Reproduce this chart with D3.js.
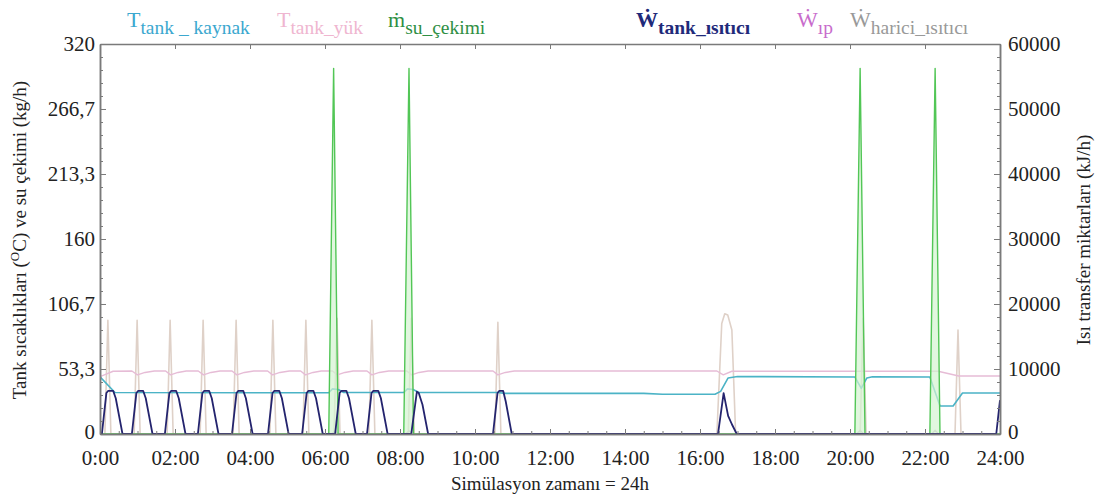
<!DOCTYPE html>
<html>
<head>
<meta charset="utf-8">
<script src="https://cdnjs.cloudflare.com/ajax/libs/d3/7.8.5/d3.min.js"></script>
<style>
    body { margin: 0; background: #fff; }
</style>
</head>
<body>
<script>
// zaman (saat) - deger ciftleri
var tKaynak = [[0,47],[0.4,34],[6.1,33.8],[6.2,37],[6.35,36.5],[6.5,34],[8.1,34],[8.2,37],[8.35,36.5],[8.5,34],
    [10.6,34],[10.8,33.3],[14.5,33.3],[15,32.6],[16.4,32.6],[16.55,35],[16.75,46],[17,47.2],[20.13,46.8],[20.3,37.5],
    [20.45,46],[20.6,47],[22.13,46.8],[22.4,23],[22.75,23],[23.0,33.6],[24,33.6]];

var tYuk = [[0,47],[0.35,51.5],[0.85,51.7],[1.0,48.5],[1.2,50.5],[1.45,51.7],
    [1.75,51.7],[1.88,48.5],[2.08,50.5],[2.3,51.7],[2.62,51.7],[2.76,48.5],[2.96,50.5],[3.2,51.7],
    [3.52,51.7],[3.65,48.5],[3.85,50.5],[4.1,51.7],[4.47,51.7],[4.6,48.5],[4.8,50.5],[5.05,51.7],
    [5.35,51.7],[5.48,48.5],[5.68,50.5],[5.9,51.7],[6.2,51.7],[6.33,48.5],[6.53,50.5],[6.75,51.7],
    [7.12,51.7],[7.25,48.5],[7.45,50.5],[7.7,51.7],[8.18,51.7],[8.31,48.5],[8.51,50.5],[8.75,51.7],
    [10.48,51.7],[10.61,48.5],[10.81,50.5],[11.05,51.7],[16.45,51.7],[16.62,48.5],[16.85,51.5],
    [22.35,51.5],[22.9,47.6],[24,47.6]];

var suCekimi = [[0,0],[6.1,0],[6.23,300],[6.35,0],[8.1,0],[8.24,300],[8.36,0],
    [20.13,0],[20.27,300],[20.4,0],[22.13,0],[22.27,300],[22.4,0],[24,0]];

var wTank = [[0,0],
    [0.05,0],[0.17,6300],[0.22,6650],[0.35,6650],[0.42,5500],[0.6,0],
    [0.85,0],[0.97,6300],[1.02,6650],[1.15,6650],[1.22,5500],[1.4,0],
    [1.73,0],[1.85,6300],[1.9,6650],[2.03,6650],[2.1,5500],[2.28,0],
    [2.61,0],[2.73,6300],[2.78,6650],[2.91,6650],[2.98,5500],[3.16,0],
    [3.52,0],[3.64,6300],[3.69,6650],[3.82,6650],[3.89,5500],[4.07,0],
    [4.48,0],[4.6,6300],[4.65,6650],[4.78,6650],[4.85,5500],[5.03,0],
    [5.39,0],[5.51,6300],[5.56,6650],[5.69,6650],[5.76,5500],[5.94,0],
    [6.27,0],[6.39,6300],[6.44,6650],[6.57,6650],[6.64,5500],[6.82,0],
    [7.12,0],[7.24,6300],[7.29,6650],[7.42,6650],[7.49,5500],[7.67,0],
    [8.3,0],[8.45,6500],[8.5,6300],[8.6,4500],[8.75,0],
    [10.48,0],[10.6,6300],[10.65,6650],[10.75,6650],[10.82,5000],[10.98,0],
    [16.48,0],[16.63,6300],[16.75,2800],[16.85,1500],[16.98,0],
    [23.9,0],[24,5200]];

var wIp = [[0,0],[6.18,0],[6.27,500],[6.36,0],[8.15,0],[8.24,500],[8.33,0],
    [20.18,0],[20.27,600],[20.36,0],[22.18,0],[22.27,600],[22.36,0],[24,0]];

var wHarici = [[0,0],[0.13,0],[0.21,17500],[0.29,0],[0.91,0],[0.99,17500],[1.07,0],
    [1.79,0],[1.87,17500],[1.95,0],[2.67,0],[2.75,17500],[2.83,0],[3.55,0],[3.63,17500],[3.71,0],
    [4.53,0],[4.61,17500],[4.69,0],[5.41,0],[5.49,17500],[5.57,0],[6.24,0],[6.32,17800],[6.4,0],
    [7.17,0],[7.25,17500],[7.33,0],[8.22,0],[8.3,17800],[8.38,0],[10.53,0],[10.61,17200],[10.69,0],
    [16.45,0],[16.58,17000],[16.66,18500],[16.74,18300],[16.85,16000],[16.95,0],
    [20.27,0],[20.35,17800],[20.43,0],[22.8,0],[22.88,16000],[22.96,0],[24,0]];

var xTicks = [0,2,4,6,8,10,12,14,16,18,20,22,24];
var xTickLabels = ["0:00","02:00","04:00","06:00","08:00","10:00","12:00","14:00","16:00","18:00","20:00","22:00","24:00"];
var leftTicks = [0, 53.333, 106.667, 160, 213.333, 266.667, 320];
var leftTickLabels = ["0","53,3","106,7","160","213,3","266,7","320"];
var rightTicks = [0,10000,20000,30000,40000,50000,60000];

var w = 1100;
var h = 502;
var pl = 100, pr = 1000, pt = 44, pb = 434;
var serif = "'Liberation Serif', 'DejaVu Serif', serif";

var svg = d3.select("body")
    .append("svg")
    .attr("width", w)
    .attr("height", h)
    .style("font-family", serif);

var x = d3.scaleLinear().domain([0, 24]).range([pl, pr]);
var yL = d3.scaleLinear().domain([0, 320]).range([pb, pt]);
var yR = d3.scaleLinear().domain([0, 60000]).range([pb, pt]);

svg.append("clipPath").attr("id", "plot")
    .append("rect")
    .attr("x", pl).attr("y", pt)
    .attr("width", pr - pl).attr("height", pb - pt);

var g = svg.append("g").attr("clip-path", "url(#plot)");

function lineFor(scale) {
    return d3.line()
        .x(function (d) { return x(d[0]); })
        .y(function (d) { return scale(d[1]); });
}

function drawLine(data, scale, color, width) {
    g.append("path")
        .datum(data)
        .attr("fill", "none")
        .attr("stroke", color)
        .attr("stroke-width", width)
        .attr("stroke-linejoin", "round")
        .attr("d", lineFor(scale));
}

drawLine(wHarici, yR, "#dfd1c8", 1.6);
drawLine(wIp, yR, "#c9b8c4", 1.2);
drawLine(tYuk, yL, "#e6bcd6", 1.4);
drawLine(tKaynak, yL, "#4bb3c6", 1.6);

// su cekimi: acik yesil dolgu + cizgi
g.append("path")
    .datum(suCekimi)
    .attr("fill", "#d4f4d2")
    .attr("fill-opacity", 0.7)
    .attr("d", d3.area()
        .x(function (d) { return x(d[0]); })
        .y0(yL(0))
        .y1(function (d) { return yL(d[1]); }));
drawLine(suCekimi, yL, "#52c656", 1.4);

drawLine(wTank, yR, "#24246e", 1.8);

// eksenler
var axisColor = "#7a7a7a";

svg.append("g")
    .attr("transform", "translate(0," + pt + ")")
    .call(d3.axisTop(x).tickValues(xTicks).tickSize(-5).tickSizeOuter(0).tickFormat(""));

var minorX = d3.range(0, 24.01, 0.5);
svg.append("g")
    .attr("transform", "translate(0," + pb + ")")
    .call(d3.axisBottom(x).tickValues(minorX).tickSize(-3).tickSizeOuter(0).tickFormat(""));

svg.append("g")
    .attr("class", "tick-text")
    .attr("transform", "translate(0," + pb + ")")
    .call(d3.axisBottom(x).tickValues(xTicks).tickSize(-5).tickSizeOuter(0).tickPadding(16)
        .tickFormat(function (d, i) { return xTickLabels[i]; }));

var minorL = d3.range(0, 31).map(function (i) { return i * 320 / 30; });
svg.append("g")
    .attr("transform", "translate(" + pl + ",0)")
    .call(d3.axisLeft(yL).tickValues(minorL).tickSize(-3).tickSizeOuter(0).tickFormat(""));

svg.append("g")
    .attr("class", "tick-text")
    .attr("transform", "translate(" + pl + ",0)")
    .call(d3.axisLeft(yL).tickValues(leftTicks).tickSize(-6).tickSizeOuter(0).tickPadding(5)
        .tickFormat(function (d, i) { return leftTickLabels[i]; }));

var minorR = d3.range(0, 60001, 2000);
svg.append("g")
    .attr("transform", "translate(" + pr + ",0)")
    .call(d3.axisRight(yR).tickValues(minorR).tickSize(-3).tickSizeOuter(0).tickFormat(""));

svg.append("g")
    .attr("class", "tick-text")
    .attr("transform", "translate(" + pr + ",0)")
    .call(d3.axisRight(yR).tickValues(rightTicks).tickSize(-6).tickSizeOuter(0).tickPadding(8)
        .tickFormat(d3.format("d")));

svg.selectAll("g").attr("font-family", null);
svg.selectAll(".domain").attr("stroke", axisColor).attr("stroke-width", 1.5);
svg.selectAll(".tick line").attr("stroke", axisColor);
svg.selectAll(".tick-text text")
    .attr("font-size", 21)
    .attr("fill", "#222");

// sifir etiketleri biraz yukari
svg.selectAll(".tick-text .tick text")
    .filter(function (d) { return d === 0 && this.getAttribute("dy") === "0.32em"; })
    .attr("dy", "0.2em");

// eksen basliklari
svg.append("text")
    .attr("transform", "translate(26,240) rotate(-90)")
    .attr("text-anchor", "middle")
    .attr("font-size", 19)
    .attr("fill", "#222")
    .call(function (t) {
        t.append("tspan").text("Tank sıcaklıkları (");
        t.append("tspan").attr("font-size", 13).attr("dy", -7).text("O");
        t.append("tspan").attr("dy", 7).text("C) ve su çekimi (kg/h)");
    });

svg.append("text")
    .attr("transform", "translate(1090,240) rotate(-90)")
    .attr("text-anchor", "middle")
    .attr("font-size", 19)
    .attr("fill", "#222")
    .text("Isı transfer miktarları (kJ/h)");

svg.append("text")
    .attr("x", 550)
    .attr("y", 490)
    .attr("text-anchor", "middle")
    .attr("font-size", 19)
    .attr("fill", "#222")
    .text("Simülasyon zamanı = 24h");

// lejant
var legend = [
    { main: "T", sub: "tank _ kaynak", color: "#3ca8cf", x: 127, bold: false },
    { main: "T", sub: "tank_yük", color: "#efb6d0", x: 277, bold: false },
    { main: "ṁ", sub: "su_çekimi", color: "#2f8f44", x: 388, bold: false },
    { main: "Ẇ", sub: "tank_ısıtıcı", color: "#1f2a7a", x: 636, bold: true },
    { main: "Ẇ", sub: "ıp", color: "#c86ccc", x: 797, bold: false },
    { main: "Ẇ", sub: "harici_ısıtıcı", color: "#999999", x: 850, bold: false }
];

legend.forEach(function (d) {
    var t = svg.append("text")
        .attr("x", d.x)
        .attr("y", 27)
        .attr("fill", d.color)
        .attr("font-weight", d.bold ? "bold" : "normal")
        .attr("font-size", 22);
    t.append("tspan").text(d.main);
    t.append("tspan").attr("dy", 7).attr("font-size", 19.5).text(d.sub);
});
</script>
</body>
</html>
